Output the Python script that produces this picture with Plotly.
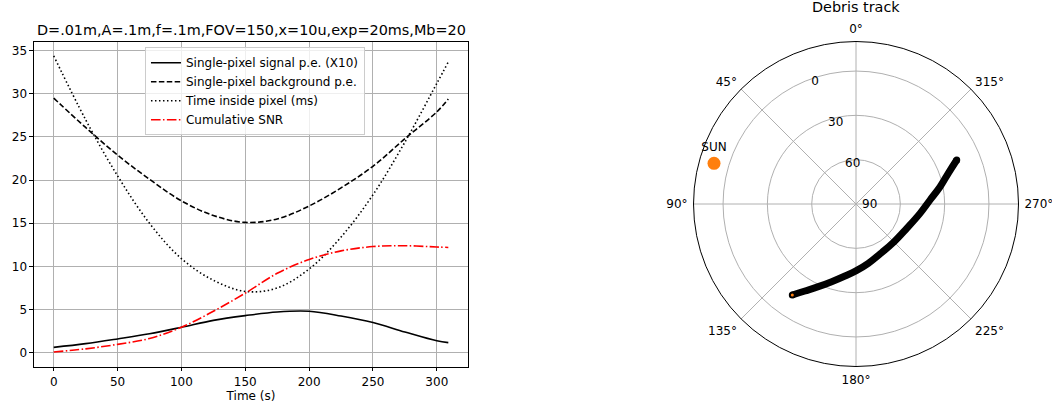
import plotly.graph_objects as go

# ---------------- data (left panel) ----------------
time_s = [0, 25, 50, 75, 100, 125, 150, 175, 200, 225, 250, 275, 300, 309]
signal_pe_x10 = [0.62, 1.05, 1.6, 2.2, 2.95, 3.75, 4.3, 4.72, 4.8, 4.25, 3.5, 2.4, 1.38, 1.17]
background_pe = [29.5, 26.1, 22.9, 20.1, 17.6, 15.9, 15.1, 15.5, 17.0, 19.1, 21.6, 24.8, 27.9, 29.4]
time_in_pixel_ms = [34.4, 27.0, 20.5, 15.0, 10.9, 8.4, 7.1, 7.5, 9.7, 13.4, 18.3, 24.4, 31.2, 33.7]
cumulative_snr = [0.08, 0.45, 0.97, 1.65, 2.95, 4.8, 6.9, 9.2, 10.8, 11.8, 12.3, 12.4, 12.25, 12.2]

# ---------------- data (right panel) ----------------
track_az = [145.0, 149.6, 155.5, 162.6, 171.3, 180.3, 191.7, 207.9, 224.1, 244.4,
            261.7, 273.1, 281.6, 288.4, 293.6]
track_el = [14.8, 21.7, 28.5, 34.9, 40.7, 44.9, 49.0, 52.8, 53.7, 51.9,
            46.2, 39.8, 31.9, 24.2, 15.6]
sun_az = [74.0]
sun_el = [-10.0]
angle_ticks = [0, 45, 90, 135, 180, 225, 270, 315]
el_ticks = [90, 60, 30, 0]

FONT = "DejaVu Sans"
GRID = "#b0b0b0"
TICK = 12
TITLE = 14.4

fig = go.Figure()

fig.add_trace(go.Scatter(x=time_s, y=signal_pe_x10, mode="lines", line_shape="spline",
                         name="Single-pixel signal p.e. (X10)",
                         line=dict(color="black", width=1.6)))
fig.add_trace(go.Scatter(x=time_s, y=background_pe, mode="lines", line_shape="spline",
                         name="Single-pixel background p.e.",
                         line=dict(color="black", width=1.6, dash="5.5px,2.4px")))
fig.add_trace(go.Scatter(x=time_s, y=time_in_pixel_ms, mode="lines", line_shape="spline",
                         name="Time inside pixel (ms)",
                         line=dict(color="black", width=1.6, dash="1.5px,2.5px")))
fig.add_trace(go.Scatter(x=time_s, y=cumulative_snr, mode="lines", line_shape="spline",
                         name="Cumulative SNR",
                         line=dict(color="red", width=1.6, dash="9.6px,2.4px,1.5px,2.4px")))

# polar traces
track_r = [90 - e for e in track_el]
fig.add_trace(go.Scatterpolar(theta=track_az, r=track_r, mode="lines",
                              line=dict(color="black", width=7, shape="spline", smoothing=1.2),
                              showlegend=False, subplot="polar"))
fig.add_trace(go.Scatterpolar(theta=[track_az[0], track_az[-1]], r=[track_r[0], track_r[-1]],
                              mode="markers", marker=dict(color="black", size=7),
                              showlegend=False, subplot="polar"))
fig.add_trace(go.Scatterpolar(theta=track_az[:1], r=track_r[:1], mode="markers",
                              marker=dict(color="#ff7f0e", size=3), showlegend=False, subplot="polar"))
fig.add_trace(go.Scatterpolar(theta=sun_az, r=[90 - e for e in sun_el], mode="markers+text",
                              text=["SUN"], textposition="top center",
                              textfont=dict(family=FONT, size=TICK, color="black"),
                              marker=dict(color="#ff7f0e", size=13), showlegend=False, subplot="polar"))

fig.update_layout(
    width=1052, height=407,
    margin=dict(l=0, r=0, t=0, b=0),
    paper_bgcolor="white", plot_bgcolor="white",
    font=dict(family=FONT, size=TICK, color="black"),
    xaxis=dict(domain=[0.0323, 0.4449], range=[-15.45, 324.45],
               tickvals=[0, 50, 100, 150, 200, 250, 300],
               showgrid=True, gridcolor=GRID, gridwidth=0.9, zeroline=False,
               showline=True, linecolor="black", linewidth=1, mirror=True,
               ticks="outside", ticklen=3.5, tickcolor="black",
               title=dict(text="Time (s)", font=dict(size=TICK), standoff=2)),
    yaxis=dict(domain=[0.099, 0.8976], range=[-1.62, 36.04],
               tickvals=[0, 5, 10, 15, 20, 25, 30, 35],
               showgrid=True, gridcolor=GRID, gridwidth=0.9, zeroline=False,
               showline=True, linecolor="black", linewidth=1, mirror=True,
               ticks="outside", ticklen=3.5, tickcolor="black"),
    legend=dict(x=0.1378, y=0.884, xanchor="left", yanchor="top",
                bgcolor="rgba(255,255,255,0.8)", bordercolor="#cccccc", borderwidth=1,
                font=dict(size=TICK), tracegroupgap=0, itemwidth=30),
    polar=dict(
        domain=dict(x=[0.6592, 0.9682], y=[0.0995, 0.898]),
        bgcolor="white",
        angularaxis=dict(rotation=90, direction="counterclockwise",
                         tickmode="array", tickvals=angle_ticks,
                         ticktext=[f"{a}°" for a in angle_ticks],
                         showline=True, linecolor="black", linewidth=1,
                         showgrid=True, gridcolor=GRID, gridwidth=0.9,
                         ticks="outside", ticklen=3, tickcolor="rgba(0,0,0,0)",
                         tickfont=dict(size=TICK)),
        radialaxis=dict(range=[0, 110], tickmode="array",
                        tickvals=[90 - e for e in el_ticks],
                        ticktext=[str(e) for e in el_ticks],
                        angle=112.5, tickangle=112.5, showline=False, ticks="",
                        showgrid=True, gridcolor=GRID, gridwidth=0.9,
                        tickfont=dict(size=TICK)),
    ),
    annotations=[
        dict(text="D=.01m,A=.1m,f=.1m,FOV=150,x=10u,exp=20ms,Mb=20", x=0.2386, y=0.8976,
             xref="paper", yref="paper", xanchor="center", yanchor="bottom", yshift=2,
             showarrow=False, font=dict(size=TITLE)),
        dict(text="Debris track", x=0.8137, y=1.0, xref="paper", yref="paper",
             xanchor="center", yanchor="top", yshift=3, showarrow=False, font=dict(size=TITLE)),
    ],
)

fig.write_html("out.html")
